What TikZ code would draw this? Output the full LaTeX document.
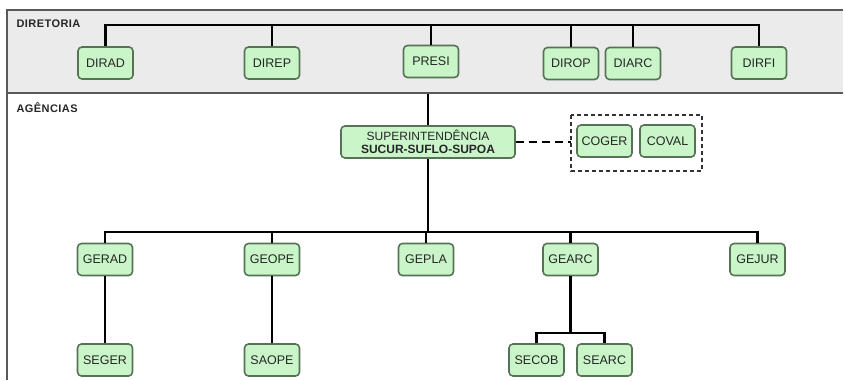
\documentclass[tikz,border=0pt]{standalone}
\usepackage{fontspec}
\setmainfont{Liberation Sans}
\definecolor{boxgreen}{HTML}{C9F5C9}
\definecolor{boxedge}{HTML}{567356}
\definecolor{bandgray}{HTML}{EBEBEB}
\definecolor{textgray}{HTML}{262626}
\begin{document}
\begin{tikzpicture}[x=1pt,y=-1pt,
    unit/.style={draw=boxedge,line width=1.6pt,fill=boxgreen,rounded corners=4pt,
        minimum width=55pt,minimum height=32pt,inner sep=0pt,text=textgray,
        font=\fontsize{12.5}{14}\selectfont},
    link/.style={line width=2.2pt,black},
    area/.style={font=\fontsize{11}{13}\selectfont\bfseries\addfontfeature{LetterSpace=4},
        text=textgray,anchor=west}]
    \useasboundingbox (0,0) rectangle (845,380);
    \fill[bandgray] (7,10) rectangle (843,93);
    \draw[gray!70!black,line width=1.3pt] (7,380) -- (7,10) -- (843,10);
    \draw[gray!70!black,line width=1.3pt] (7,93) -- (843,93);
    \node[area] (diretoria) at (13,24) {DIRETORIA};
    \node[area] (agencias) at (13,108) {AGÊNCIAS};
    \node[unit] (dirad) at (105.5,63) {DIRAD};
    \node[unit] (direp) at (272,63) {DIREP};
    \node[unit] (presi) at (431,61.5) {PRESI};
    \node[unit] (dirop) at (571,63.5) {DIROP};
    \node[unit] (diarc) at (633,63.5) {DIARC};
    \node[unit] (dirfi) at (759,63) {DIRFI};
    \coordinate (topbus) at (431,25);
    \draw[link] (dirad.north) |- (topbus) -| (dirfi.north);
    \draw[link] (direp.north) -- (direp |- topbus);
    \draw[link] (presi.north) -- (presi |- topbus);
    \draw[link] (dirop.north) -- (dirop |- topbus);
    \draw[link] (diarc.north) -- (diarc |- topbus);
    \node[unit,minimum width=174pt,align=center,font=\fontsize{12}{13}\selectfont] (super) at (428,142)
        {SUPERINTENDÊNCIA\\\textbf{SUCUR-SUFLO-SUPOA}};
    \node[unit] (coger) at (604.5,141) {COGER};
    \node[unit] (coval) at (667.5,141) {COVAL};
    \draw[line width=1.2pt,gray!40!black,dash pattern=on 4pt off 3pt] (571,115) rectangle (702,171);
    \coordinate (comgroup) at (571,142);
    \draw[link,dash pattern=on 8pt off 5pt] (super.east) -- (comgroup);
    \coordinate (presiout) at (428,94);
    \draw[link] (presiout) -- (super.north);
    \node[unit] (gerad) at (105,259.5) {GERAD};
    \node[unit] (geope) at (272,259.5) {GEOPE};
    \node[unit] (gepla) at (426,259.5) {GEPLA};
    \node[unit] (gearc) at (570.5,259.5) {GEARC};
    \node[unit] (gejur) at (757.5,259.5) {GEJUR};
    \coordinate (midbus) at (428,232);
    \draw[link] (super.south) -- (midbus);
    \draw[link] (gerad.north) |- (midbus) -| (gejur.north);
    \draw[link] (geope.north) -- (geope |- midbus);
    \draw[link] (gepla.north) -- (gepla |- midbus);
    \draw[link] (gearc.north) -- (gearc |- midbus);
    \node[unit] (seger) at (105,360) {SEGER};
    \node[unit] (saope) at (272,360) {SAOPE};
    \node[unit] (secob) at (536.5,360) {SECOB};
    \node[unit] (searc) at (604.5,360) {SEARC};
    \draw[link] (gerad.south) -- (seger.north);
    \draw[link] (geope.south) -- (saope.north);
    \coordinate (lowbus) at (570.5,333);
    \draw[link] (gearc.south) -- (lowbus);
    \draw[link] (secob.north) |- (lowbus) -| (searc.north);
\end{tikzpicture}
\end{document}
